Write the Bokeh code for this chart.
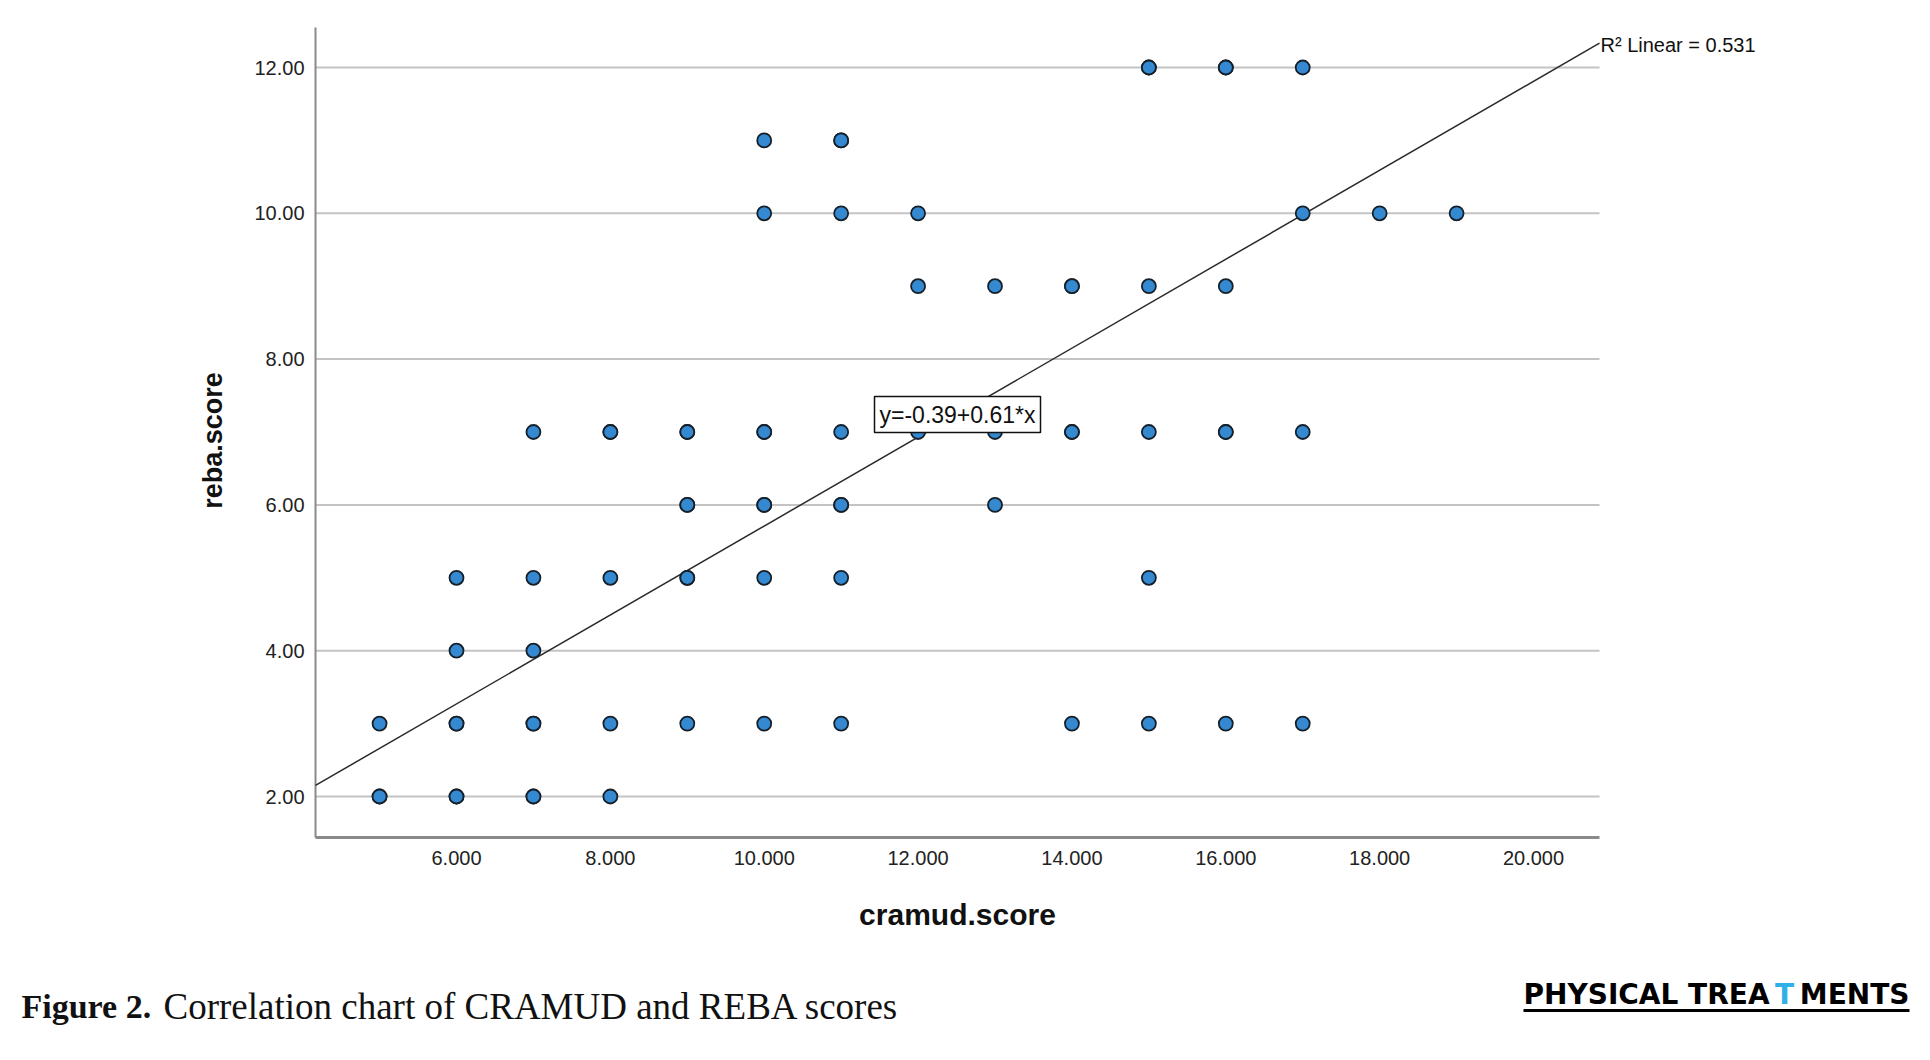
import math
from bokeh.plotting import figure
from bokeh.models import Range1d, Label
from bokeh.embed import file_html
from bokeh.resources import INLINE
from bokeh.core.properties import value

# ---------------- data ----------------
cramud = [15, 15, 16, 16, 17,
          10, 11, 11,
          10, 11, 12, 17, 18, 19,
          12, 13, 14, 14, 15, 16,
          7, 8, 8, 9, 9, 10, 10, 11, 12, 13, 14, 14, 15, 16, 16, 17,
          9, 9, 10, 10, 11, 11, 13,
          6, 7, 8, 9, 9, 10, 11, 15,
          6, 7,
          5, 6, 6, 7, 7, 8, 9, 10, 11, 14, 15, 16, 17,
          5, 5, 6, 6, 7, 7, 8]
reba = [12, 12, 12, 12, 12,
        11, 11, 11,
        10, 10, 10, 10, 10, 10,
        9, 9, 9, 9, 9, 9,
        7, 7, 7, 7, 7, 7, 7, 7, 7, 7, 7, 7, 7, 7, 7, 7,
        6, 6, 6, 6, 6, 6, 6,
        5, 5, 5, 5, 5, 5, 5, 5,
        4, 4,
        3, 3, 3, 3, 3, 3, 3, 3, 3, 3, 3, 3, 3,
        2, 2, 2, 2, 2, 2, 2]
x_ticks = [6, 8, 10, 12, 14, 16, 18, 20]
y_ticks = [2, 4, 6, 8, 10, 12]
x_tick_labels = [f"{v:.3f}" for v in x_ticks]
y_tick_labels = [f"{v:.2f}" for v in y_ticks]
intercept = -0.39
slope = 0.61
r_squared = 0.531
x_title = "cramud.score"
y_title = "reba.score"
caption_bold = "Figure 2."
caption_text = "Correlation chart of CRAMUD and REBA scores"
logo_parts = ["PHYSICAL TREA", "T", "MENTS"]

# ---------------- page geometry (pixel -> data helpers) ----------------
W, H = 1914, 1044
OFF = 0
PX_X = 76.93   # pixels per x unit
PX_Y = 72.9    # pixels per y unit


def dx(px):
    return 6 + (px - 456) / PX_X


def dy(py):
    return 2 - (py - 796) / PX_Y


X_START, X_END = dx(315), dx(1599)
Y_START, Y_END = dy(837), dy(27)

SANS = "Liberation Sans"

p = figure(width=W, height=H, title=None,
           x_range=Range1d(dx(OFF), dx(OFF + W)),
           y_range=Range1d(dy(OFF + H), dy(OFF)),
           output_backend="svg", toolbar_location=None,
           x_axis_type=None, y_axis_type=None, min_border=0)
p.outline_line_color = None
p.grid.visible = False
p.background_fill_color = "white"
p.border_fill_color = "white"

# horizontal grid lines across the plot area
p.segment(x0=[X_START] * len(y_ticks), y0=y_ticks,
          x1=[X_END] * len(y_ticks), y1=y_ticks,
          line_color="#c4c4c4", line_width=2)

# axis lines
p.segment(x0=[X_START], y0=[Y_START], x1=[X_START], y1=[Y_END],
          line_color="#8a8a8a", line_width=2)
p.segment(x0=[X_START], y0=[Y_START], x1=[X_END], y1=[Y_START],
          line_color="#8a8a8a", line_width=3)

# tick labels
p.text(x=[dx(304)] * len(y_ticks), y=y_ticks, text=y_tick_labels,
       text_font=value(SANS), text_font_size="20px", text_color="#222222",
       text_align="right", text_baseline="middle")
p.text(x=x_ticks, y=[dy(857)] * len(x_ticks), text=x_tick_labels,
       text_font=value(SANS), text_font_size="20px", text_color="#222222",
       text_align="center", text_baseline="middle")

# axis titles
p.text(x=[(X_START + X_END) / 2], y=[dy(914)], text=[x_title],
       text_font=value(SANS), text_font_style="bold", text_font_size="30px",
       text_color="#111111", text_align="center", text_baseline="middle")
p.text(x=[dx(212)], y=[dy(440)], text=[y_title], angle=math.pi / 2,
       text_font=value(SANS), text_font_style="bold", text_font_size="27px",
       text_color="#111111", text_align="center", text_baseline="middle")

# regression line over the plot area
line_x = [X_START, X_END]
line_y = [intercept + slope * v for v in line_x]
p.line(line_x, line_y, line_color="#2a2a2a", line_width=1.5)

p.scatter(cramud, reba, size=14, fill_color="#3489d1",
          line_color="#16202a", line_width=1.8)

eq = Label(x=dx(957), y=dy(414), text=f"y={intercept:.2f}+{slope:.2f}*x",
           text_align="center", text_baseline="middle",
           text_font=SANS, text_font_size="23px", text_color="#111111",
           background_fill_color="white", border_line_color="#111111",
           border_line_width=1.5, padding=5)
p.add_layout(eq)

p.text(x=[dx(1600)], y=[dy(44)], text=[f"R² Linear = {r_squared}"],
       text_font=value(SANS), text_font_size="20px", text_color="#111111",
       text_align="left", text_baseline="middle")

# ---------------- caption + logo ----------------
p.text(x=[dx(21)], y=[dy(1006)], text=[caption_bold], text_font=value("Liberation Serif"),
       text_font_style="bold", text_font_size="34px", text_color="#111111",
       text_baseline="alphabetic", text_align="left")
p.text(x=[dx(163)], y=[dy(1006)], text=[caption_text], text_font=value("Liberation Serif"),
       text_font_size="37px", text_color="#111111",
       text_baseline="alphabetic", text_align="left")

LOGO_FONT = value("DejaVu Sans")
p.text(x=[dx(1523)], y=[dy(994)], text=[logo_parts[0]], text_font=LOGO_FONT,
       text_font_style="bold", text_font_size="28px", text_color="#000000",
       text_baseline="alphabetic", text_align="left")
p.text(x=[dx(1784)], y=[dy(994)], text=[logo_parts[1]], text_font=LOGO_FONT,
       text_font_style="bold", text_font_size="28px", text_color="#2fb0e6",
       text_baseline="alphabetic", text_align="center")
p.text(x=[dx(1909)], y=[dy(994)], text=[logo_parts[2]], text_font=LOGO_FONT,
       text_font_style="bold", text_font_size="28px", text_color="#000000",
       text_baseline="alphabetic", text_align="right")
p.segment(x0=[dx(1523)], y0=[dy(1010)], x1=[dx(1909)], y1=[dy(1010)],
          line_color="#000000", line_width=3)

open("out.html", "w").write(file_html(p, INLINE))
